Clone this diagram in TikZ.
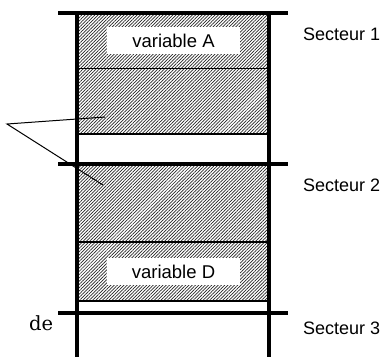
\documentclass[tikz,border=0pt]{standalone}
\usepackage{fontspec}
\setmainfont{Liberation Sans}
\newfontfamily\seriffont{DejaVu Serif}
\usetikzlibrary{patterns.meta}
\begin{document}
\begin{tikzpicture}[x=1pt,y=-1pt,
  hatch/.style={pattern={Lines[angle=45,distance=2.3pt,line width=0.7pt]},pattern color=black!85},
  bar/.style={line width=3.6pt},
  sep/.style={line width=1.6pt},
  thin/.style={line width=1pt},
  lbl/.style={font=\fontsize{18}{20}\selectfont,inner sep=0pt,anchor=base west},
  varbox/.style={fill=white,minimum width=133pt,minimum height=27pt,inner sep=0pt,font=\fontsize{18.5}{20}\selectfont}]
\useasboundingbox (0,0) rectangle (383,357);
% hatched regions
\fill[hatch] (77,13) rectangle (269,134);
\fill[hatch] (77,164) rectangle (269,301);
% white label boxes
\node[varbox] (varA) at (173.5,40.5) {variable A};
\node[varbox] (varD) at (173.5,271.5) {variable D};
% separators
\draw[thin] (77,68) -- (269,68);
\draw[sep] (77,134) -- (269,134);
\draw[sep] (77,242) -- (269,242);
\draw[sep] (77,301) -- (269,301);
% verticals
\draw[bar] (77,13) -- (77,357);
\draw[bar] (269,13) -- (269,357);
% horizontal bars
\draw[bar] (58,13) -- (288,13);
\draw[bar] (58,164) -- (288,164);
\draw[bar] (58,313) -- (288,313);
% labels
\node[lbl] (s1) at (303,40) {Secteur 1};
\node[lbl] (s2) at (303,191) {Secteur 2};
\node[lbl] (s3) at (303,334) {Secteur 3};
\node[inner sep=0pt,anchor=base west,font=\seriffont\fontsize{19.5}{22}\selectfont] (de) at (29,330) {de};
% callout
\coordinate (o) at (7,124);
\coordinate (p1) at (105,117);
\coordinate (p2) at (103,185);
\draw[thin] (p1) -- (o) -- (p2);
\end{tikzpicture}
\end{document}
